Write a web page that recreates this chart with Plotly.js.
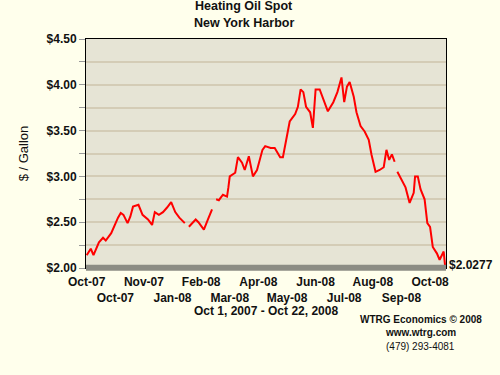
<!DOCTYPE html>
<html><head><meta charset="utf-8">
<script src="https://cdn.plot.ly/plotly-3.0.1.min.js"></script>
<style>html,body{margin:0;padding:0;background:#ffffec;}#c{width:500px;height:375px;}</style>
</head><body><div id="c"></div>
<script>
// trading-day index since Oct 1, 2007 and spot price ($/gal); null = missing data
const dayIndex = [0,3,5,9,12,14,18,20,23,25,27,30,32,34,38,41,45,48,50,53,56,59,62,65,68,72,74,75,80,82,86,89,92,94,95,97,100,103,104,105,109,111,114,116,119,122,125,129,131,135,138,142,144,146,149,153,155,157,159,161,164,166,168,171,174,177,181,184,187,189,191,193,196,198,201,204,207,209,212,215,218,220,222,224,226,227,228,231,234,237,240,241,243,245,248,250,252,254,257,259,262,263];
const price = [2.14,2.21,2.14,2.28,2.33,2.30,2.38,2.45,2.55,2.60,2.58,2.49,2.56,2.67,2.69,2.58,2.53,2.47,2.61,2.58,2.61,2.66,2.72,2.61,2.55,2.49,null,2.45,2.53,2.50,2.42,2.53,2.64,null,2.75,2.74,2.80,2.78,2.88,3.00,3.04,3.21,3.15,3.07,3.22,3.00,3.07,3.29,3.33,3.31,3.31,3.21,3.21,3.38,3.60,3.68,3.76,3.95,3.92,3.76,3.70,3.53,3.95,3.95,3.82,3.71,3.81,3.92,4.08,3.81,3.98,4.03,3.87,3.70,3.55,3.49,3.40,3.24,3.05,3.07,3.10,3.29,3.18,3.24,3.16,null,3.05,2.96,2.88,2.71,2.82,3.00,3.00,2.86,2.75,2.49,2.45,2.23,2.16,2.09,2.18,2.0277];
const tickDays = [0,21,42,63,84,105,126,147,168,189,210,231,252];
const tickLabels = ["Oct-07","Oct-07","Nov-07","Jan-08","Feb-08","Mar-08","Apr-08","May-08","Jun-08","Jul-08","Aug-08","Sep-08","Oct-08"];
const yTicks = [2.0,2.5,3.0,3.5,4.0,4.5];
const yTickLabels = ["$2.00","$2.50","$3.00","$3.50","$4.00","$4.50"];
const lastLabel = "$2.0277";

const ticktext = tickLabels.map((t,i)=> i%2===1 ? "<br>"+t : t);
const F = "Liberation Sans, Arial, sans-serif";

const trace = {x: dayIndex, y: price, type:'scatter', mode:'lines', connectgaps:false,
  line:{color:'#ff0000', width:2}, hoverinfo:'skip'};

const ann = (text, y, size, x) => ({text:text, xref:'paper', yref:'paper', x:x, y:0, xanchor:'center', yanchor:'middle', yshift:y,
  showarrow:false, font:{family:F, size:size, color:'#111'}});

const layout = {
  width:500, height:375,
  paper_bgcolor:'#ffffec', plot_bgcolor:'#e6e4d5',
  margin:{l:86, r:54, t:39, b:107},
  showlegend:false,
  font:{family:F, color:'#000'},
  xaxis:{range:[-0.5,263.7], tickmode:'array', tickvals:tickDays, ticktext:ticktext,
    tickfont:{family:F, size:12, weight:'bold', color:'#111'}, ticks:'', showgrid:false, zeroline:false,
    showline:true, linecolor:'#000', linewidth:1, mirror:true, tickangle:0, ticklabelstandoff:3},
  yaxis:{range:[2,4.5], tickmode:'array', tickvals:yTicks, ticktext:yTickLabels,
    tickfont:{family:F, size:12, weight:'bold', color:'#111'}, ticks:'outside', ticklen:6, tickcolor:'#999',
    showgrid:true, gridcolor:'#d4ccb6', gridwidth:2, zeroline:false,
    minor:{dtick:0.25, showgrid:true, gridcolor:'#d4ccb6', gridwidth:2, ticks:'outside', ticklen:6, tickcolor:'#999'},
    showline:true, linecolor:'#000', linewidth:1, mirror:true,
    title:{text:'$ / Gallon', font:{family:F, size:13, color:'#111'}, standoff:15}},
  shapes:[{type:'rect', xref:'paper', yref:'paper', x0:0, x1:1, y0:-0.012, y1:0.014,
    fillcolor:'#8c8c84', line:{width:0}, layer:'above'}],
  annotations:[
    {text:'<b>Heating Oil Spot</b>', xref:'paper', yref:'paper', x:0.44, y:1, xanchor:'center', yanchor:'middle', yshift:33, showarrow:false, font:{family:F,size:12.5,color:'#111'}},
    {text:'<b>New York Harbor</b>', xref:'paper', yref:'paper', x:0.44, y:1, xanchor:'center', yanchor:'middle', yshift:16, showarrow:false, font:{family:F,size:12.5,color:'#111'}},
    {text:'<b>'+lastLabel+'</b>', x:dayIndex[dayIndex.length-1], y:price[price.length-1], xanchor:'left', xshift:2, showarrow:false, font:{family:F,size:12,color:'#111'}},
    ann('<b>Oct 1, 2007 - Oct 22, 2008</b>', -43, 12, 0.5),
    ann('<b>WTRG Economics © 2008</b>', -51, 10, 0.93),
    ann('<b>www.wtrg.com</b>', -64, 10, 0.93),
    ann('(479) 293-4081', -78, 10, 0.93)
  ]
};
Plotly.newPlot('c',[trace],layout,{staticPlot:true, displayModeBar:false});
</script></body></html>
